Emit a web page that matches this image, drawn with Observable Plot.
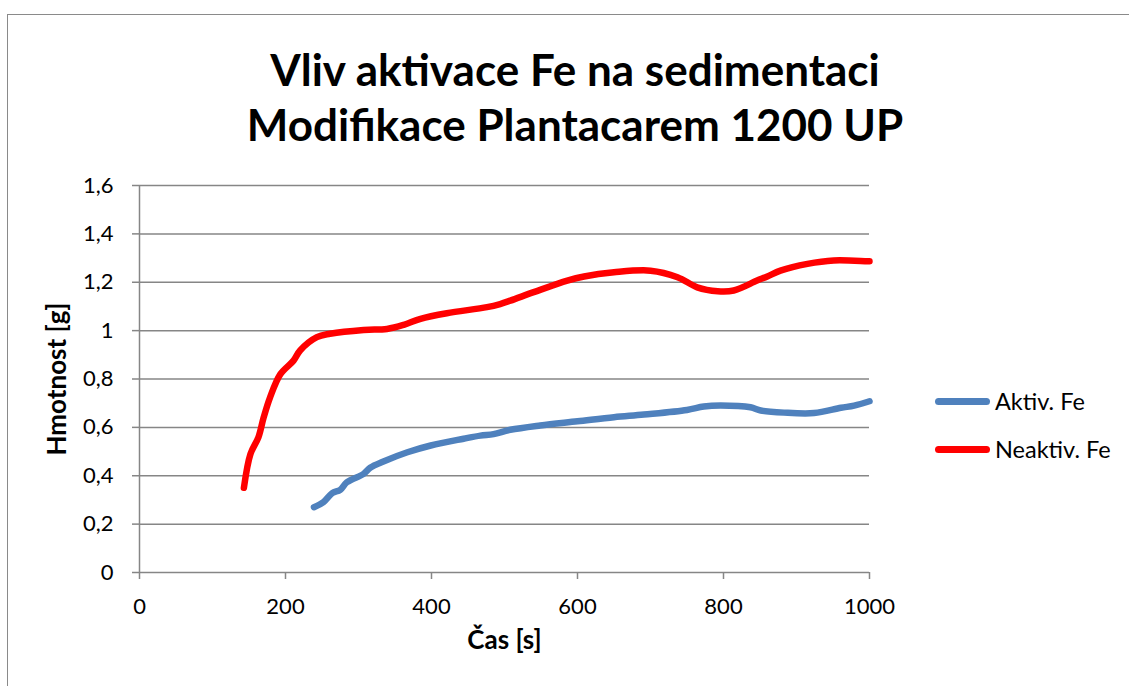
<!DOCTYPE html>
<html>
<head>
<meta charset="utf-8">
<script src="https://cdn.jsdelivr.net/npm/d3@7"></script>
<script src="https://cdn.jsdelivr.net/npm/@observablehq/plot@0.6"></script>
<style>
  html, body { margin: 0; padding: 0; background: #fff; }
  #wrap { position: relative; width: 1129px; height: 686px; overflow: hidden; font-family: Lato, "Open Sans", sans-serif; }
  #border { position: absolute; left: 7px; top: 14px; width: 1200px; height: 800px; border: 1.5px solid #8a8a8a; box-sizing: border-box; pointer-events: none; }
  #title { position: absolute; left: 0; top: 42px; width: 1150px; text-align: center; font-weight: bold; font-size: 44px; line-height: 55px; color: #000; }
  #chart { position: absolute; left: 0; top: 0; }
  .leg { position: absolute; left: 935px; height: 28px; display: flex; align-items: center; font-size: 23.5px; color: #000; }
  .sw { width: 55px; height: 7px; border-radius: 3.5px; margin-right: 5px; }
</style>
</head>
<body>
<div id="wrap">
  <div id="chart"></div>
  <div id="title">Vliv aktivace Fe na sedimentaci<br>Modifikace Plantacarem 1200 UP</div>
  <div id="legend"></div>
  <div id="border"></div>
</div>
<script>
// Series: Aktiv. Fe (blue)
const aktivT = [239, 252, 264, 275, 284, 307, 316, 335, 367, 399, 444, 467, 485, 508, 549, 600, 650, 691, 750, 773, 796, 837, 851, 883, 924, 961, 979, 1000];
const aktivV = [0.27, 0.291, 0.328, 0.342, 0.373, 0.408, 0.433, 0.46, 0.497, 0.525, 0.553, 0.566, 0.572, 0.59, 0.608, 0.625, 0.642, 0.653, 0.672, 0.686, 0.69, 0.683, 0.67, 0.661, 0.659, 0.681, 0.69, 0.708];
// Series: Neaktiv. Fe (red)
const neaktivT = [143, 152, 163, 170, 179, 193, 211, 220, 243, 261, 307, 339, 362, 385, 421, 476, 494, 508, 540, 586, 609, 650, 700, 737, 764, 792, 814, 846, 860, 878, 915, 951, 997, 1000];
const neaktivV = [0.35, 0.49, 0.56, 0.64, 0.725, 0.82, 0.876, 0.918, 0.973, 0.987, 1.003, 1.007, 1.024, 1.049, 1.072, 1.097, 1.11, 1.124, 1.159, 1.207, 1.224, 1.241, 1.248, 1.221, 1.179, 1.163, 1.166, 1.207, 1.224, 1.248, 1.276, 1.29, 1.287, 1.287];
// Ticks
const xTicks = [0, 200, 400, 600, 800, 1000];
const yTicks = [0, 0.2, 0.4, 0.6, 0.8, 1, 1.2, 1.4, 1.6];
const seriesNames = ["Aktiv. Fe", "Neaktiv. Fe"];
const seriesColors = ["#4F81BD", "#FF0000"];
const xTitle = "Čas [s]";
const yTitle = "Hmotnost [g]";

const aktiv = aktivT.map((t, i) => ({t, v: aktivV[i]}));
const neaktiv = neaktivT.map((t, i) => ({t, v: neaktivV[i]}));
const grid = "#868686";
const fmt = d => String(d).replace(".", ",");

const chart = Plot.plot({
  width: 1129,
  height: 686,
  marginLeft: 139,
  marginRight: 260,
  marginTop: 185,
  marginBottom: 114,
  style: {fontFamily: "Lato, 'Open Sans', sans-serif", fontSize: "22px", color: "#000", background: "transparent", overflow: "visible"},
  x: {domain: [0, 1000], ticks: xTicks},
  y: {domain: [0, 1.6], ticks: yTicks},
  marks: [
    Plot.gridY(yTicks, {stroke: grid, strokeOpacity: 1, strokeWidth: 1.5}),
    Plot.ruleX([0], {stroke: grid, strokeWidth: 1.5}),
    Plot.axisY(yTicks, {tickSize: 7, tickPadding: 19, tickFormat: fmt, stroke: grid, strokeWidth: 1.5, label: null, fontSize: 22}),
    Plot.axisX(xTicks, {tickSize: 7, tickPadding: 19, tickFormat: fmt, stroke: grid, strokeWidth: 1.5, label: null, fontSize: 22}),
    Plot.line(neaktiv, {x: "t", y: "v", stroke: seriesColors[1], strokeWidth: 6.5, curve: "catmull-rom", strokeLinecap: "round", strokeLinejoin: "round"}),
    Plot.line(aktiv, {x: "t", y: "v", stroke: seriesColors[0], strokeWidth: 6.5, curve: "catmull-rom", strokeLinecap: "round", strokeLinejoin: "round"}),
    Plot.text([xTitle], {text: d => d, frameAnchor: "bottom", textAnchor: "middle", dy: 76, fontWeight: "bold", fontSize: 26}),
    Plot.text([yTitle], {text: d => d, frameAnchor: "left", textAnchor: "middle", rotate: -90, dx: -82, fontWeight: "bold", fontSize: 26})
  ]
});
document.getElementById("chart").appendChild(chart);

const legend = document.getElementById("legend");
const legTops = [387, 435];
seriesNames.forEach((name, i) => {
  const item = document.createElement("div");
  item.className = "leg";
  item.style.top = legTops[i] + "px";
  const sw = document.createElement("div");
  sw.className = "sw";
  sw.style.background = seriesColors[i];
  const label = document.createElement("span");
  label.textContent = name;
  item.appendChild(sw);
  item.appendChild(label);
  legend.appendChild(item);
});
</script>
</body>
</html>
